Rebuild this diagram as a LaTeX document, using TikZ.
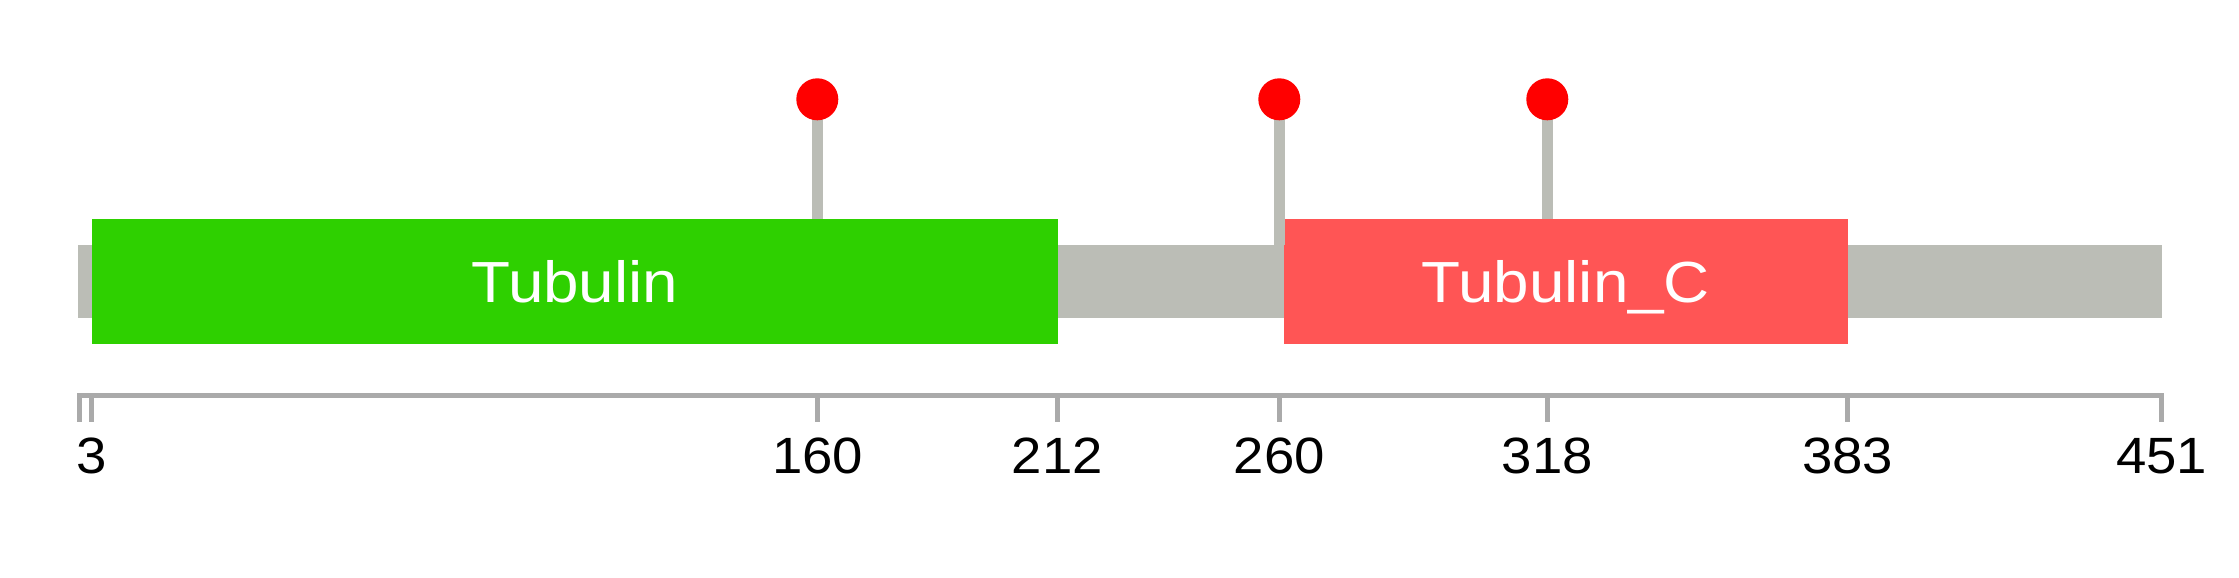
\documentclass[tikz,border=0pt]{standalone}
\usepackage{fontspec}
\setmainfont{Liberation Sans}
\newfontfamily\domainfont[FakeStretch=1.1]{Liberation Sans}
\newfontfamily\numfont[FakeStretch=1.07]{Liberation Sans}
\definecolor{tgreen}{RGB}{46,208,0}
\definecolor{tred}{RGB}{255,85,85}
\definecolor{bbgrey}{RGB}{187,189,182}
\definecolor{axisgrey}{RGB}{170,170,170}
\definecolor{lollired}{RGB}{255,0,0}
\begin{document}
\begin{tikzpicture}[x=1pt,y=-1pt,
  pfamdomain/.style={draw=none, inner sep=0pt, text=white,
    font=\domainfont\fontsize{58}{60}\selectfont, text height=41.5pt, text depth=0pt},
  stick/.style={draw=bbgrey, line width=11pt},
  head/.style={circle, fill=lollired, draw=none, inner sep=0pt, minimum size=42pt},
  tickmark/.style={draw=axisgrey, line width=5pt},
  poslabel/.style={font=\numfont\fontsize{51}{53}\selectfont, anchor=base, inner sep=0pt}
]
\useasboundingbox (0,0) rectangle (2239,578);
% backbone
\fill[bbgrey] (78,245) rectangle (2162,318);
% domains
\node[pfamdomain, fill=tgreen, minimum width=965.7pt, minimum height=125pt] (tub) at (574.85,281.5) {Tubulin};
\node[pfamdomain, fill=tred, minimum width=563.7pt, minimum height=125pt] (tubc) at (1565.85,281.5) {Tubulin\_C};
% lollipops
\coordinate (h1) at (817.3,99.3);
\coordinate (b1) at (817.3,219);
\coordinate (h2) at (1279.3,99.3);
\coordinate (b2) at (1279.3,245);
\coordinate (h3) at (1547.3,99.3);
\coordinate (b3) at (1547.3,219);
\draw[stick] (h1) -- (b1);
\draw[stick] (h2) -- (b2);
\draw[stick] (h3) -- (b3);
\node[head] (p1) at (h1) {};
\node[head] (p2) at (h2) {};
\node[head] (p3) at (h3) {};
% axis
\coordinate (axL) at (77,395.5);
\coordinate (axR) at (2164.3,395.5);
\draw[tickmark] (axL) -- (axR);
\coordinate (t0) at (79.5,393);
\coordinate (t0b) at (79.5,422);
\draw[tickmark] (t0) -- (t0b);
\foreach \x/\lab/\nm in {91.5/3/l3, 817.6/160/l160, 1057.5/212/l212, 1279.3/260/l260, 1547.2/318/l318, 1847.6/383/l383, 2161.8/451/l451}{
  \coordinate (tt\nm) at (\x,393);
  \coordinate (tb\nm) at (\x,422);
  \draw[tickmark] (tt\nm) -- (tb\nm);
  \node[poslabel] (\nm) at (\x,473) {\lab};
}
\end{tikzpicture}
\end{document}
